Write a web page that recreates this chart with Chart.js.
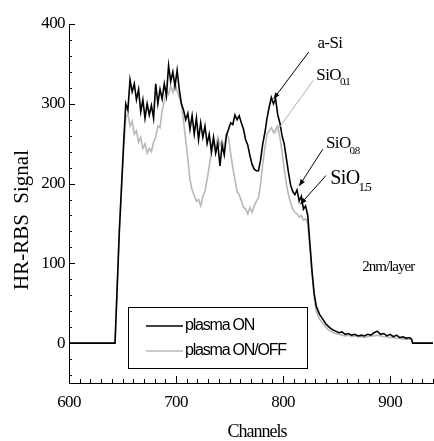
<!DOCTYPE html>
<html>
<head>
<meta charset="utf-8">
<script src="https://cdn.jsdelivr.net/npm/chart.js@4.4.0/dist/chart.umd.min.js"></script>
<style>
  html, body { margin: 0; padding: 0; background: #fff; }
  #wrap { width: 434px; height: 441px; position: relative; }
</style>
</head>
<body>
<div id="wrap"><canvas id="rbs-chart"></canvas></div>
<script>
// channel numbers (x) shared by both spectra
const channels = [
  600, 643, 645, 647, 649, 651, 653, 655, 657, 659,
  661, 663, 665, 667, 669, 671, 673, 675, 677, 679,
  681, 683, 685, 687, 689, 691, 693, 695, 697, 699,
  701, 703, 705, 707, 709, 711, 713, 715, 717, 719,
  721, 723, 725, 727, 729, 731, 733, 735, 737, 739,
  741, 743, 745, 747, 749, 751, 753, 755, 757, 759,
  761, 763, 765, 767, 769, 771, 773, 775, 777, 779,
  781, 783, 785, 787, 789, 791, 793, 795, 797, 799,
  801, 803, 805, 807, 809, 811, 813, 815, 817, 819,
  821, 823, 825, 827, 829, 831, 834, 837, 840, 843,
  846, 849, 852, 855, 858, 861, 864, 867, 870, 873,
  876, 879, 882, 885, 888, 891, 894, 897, 900, 903,
  906, 909, 912, 915, 918, 920, 921, 940
];

const plasmaOn = [
  0, 0, 70, 140, 195, 250, 300, 292, 330, 315,
  325, 305, 318, 290, 305, 282, 300, 286, 298, 282,
  325, 300, 318, 306, 325, 310, 348, 328, 340, 322,
  342, 318, 300, 292, 280, 288, 268, 285, 262, 282,
  255, 276, 258, 272, 250, 262, 240, 258, 238, 250,
  222, 248, 236, 260, 268, 276, 274, 286, 280, 285,
  276, 268, 255, 248, 235, 224, 218, 216, 216, 230,
  250, 264, 282, 296, 308, 300, 306, 286, 276, 260,
  250, 232, 214, 198, 190, 186, 192, 178, 184, 168,
  172, 160, 125, 90, 62, 46, 36, 30, 24, 20,
  17, 15, 13, 14, 11, 12, 10, 11, 9, 10,
  9, 11, 10, 13, 15, 11, 12, 9, 11, 8,
  10, 7, 8, 6, 7, 5, 0, 0
];

const plasmaOnOff = [
  0, 0, 70, 140, 190, 240, 282, 288, 272, 278,
  262, 266, 252, 258, 244, 250, 238, 244, 240, 252,
  258, 272, 270, 292, 302, 318, 312, 322, 314, 326,
  316, 308, 300, 278, 255, 231, 205, 192, 185, 178,
  180, 172, 184, 190, 205, 222, 238, 250, 245, 258,
  248, 254, 244, 262, 258, 238, 220, 205, 190, 186,
  178, 170, 168, 162, 170, 164, 172, 178, 182, 200,
  225, 245, 262, 266, 270, 264, 268, 272, 258, 240,
  218, 200, 186, 176, 168, 164, 162, 158, 160, 154,
  156, 150, 120, 86, 58, 40, 30, 25, 20, 16,
  14, 12, 11, 10, 9, 10, 8, 9, 8, 8,
  7, 8, 9, 9, 10, 9, 8, 8, 7, 7,
  6, 6, 5, 5, 5, 4, 0, 0
];

const seriesNames = ['plasma ON', 'plasma ON/OFF'];
const seriesColors = ['#000000', '#b8b8b8'];

const xTicks = [600, 700, 800, 900];
const yTicks = [0, 100, 200, 300, 400];

// layer labels: [base, subscript, label channel, label signal, arrow tail ch, tail sig, head ch, head sig, colour, font size]
const layerLabels = [
  ['a-Si', '', 832, 376, 824, 365, 791, 306, '#000', 17],
  ['SiO', '0.1', 831, 336, 828, 329, 792, 262, '#b0b0b0', 17],
  ['SiO', '0.8', 840, 250, 837, 243, 815, 197, '#000', 17],
  ['SiO', '1.5', 844, 206, 840, 210, 816, 174, '#000', 20]
];
const noteText = '2nm/layer';
const notePos = [874, 95];

const serif = "'Liberation Serif', 'Times New Roman', serif";
const sans = "'Liberation Sans Narrow', 'Liberation Sans', Arial, sans-serif";

function toPoints(ys) {
  return channels.map((c, i) => ({ x: c, y: ys[i] }));
}

function arrow(ctx, x1, y1, x2, y2, color, head) {
  ctx.strokeStyle = color;
  ctx.fillStyle = color;
  ctx.lineWidth = 1;
  ctx.beginPath();
  ctx.moveTo(x1, y1);
  ctx.lineTo(x2, y2);
  ctx.stroke();
  if (!head) return;
  const a = Math.atan2(y2 - y1, x2 - x1);
  const len = 7, w = 0.38;
  ctx.beginPath();
  ctx.moveTo(x2, y2);
  ctx.lineTo(x2 - len * Math.cos(a - w), y2 - len * Math.sin(a - w));
  ctx.lineTo(x2 - len * Math.cos(a + w), y2 - len * Math.sin(a + w));
  ctx.closePath();
  ctx.fill();
}

const decorations = {
  id: 'decorations',
  beforeDraw(chart) {
    chart.ctx.letterSpacing = '-0.6px';
  },
  afterDraw(chart) {
    const ctx = chart.ctx;
    const xs = chart.scales.x, ys = chart.scales.y;
    const area = chart.chartArea;
    ctx.save();

    // inward tick marks
    ctx.strokeStyle = '#000';
    ctx.lineWidth = 1;
    ctx.beginPath();
    for (let v = xs.min; v <= xs.max; v += 10) {
      const px = Math.round(xs.getPixelForValue(v)) + 0.5;
      const len = v % 100 === 0 ? 7 : 4;
      ctx.moveTo(px, area.bottom);
      ctx.lineTo(px, area.bottom - len);
    }
    for (let v = -40; v <= ys.max; v += 20) {
      const py = Math.round(ys.getPixelForValue(v)) + 0.5;
      const len = v % 100 === 0 ? 6 : 3;
      ctx.moveTo(area.left, py);
      ctx.lineTo(area.left + len, py);
    }
    ctx.stroke();

    // axis titles
    ctx.fillStyle = '#000';
    ctx.letterSpacing = '-1px';
    ctx.font = '18px ' + serif;
    ctx.textAlign = 'center';
    ctx.textBaseline = 'middle';
    ctx.fillText('Channels', 257, 432);
    ctx.save();
    ctx.translate(22, 220);
    ctx.rotate(-Math.PI / 2);
    ctx.letterSpacing = '0px';
    ctx.font = '21px ' + serif;
    ctx.fillText('HR-RBS  Signal', 0, 0);
    ctx.restore();

    // arrows and layer labels
    ctx.textAlign = 'left';
    ctx.letterSpacing = '-0.6px';
    layerLabels.forEach(([base, sub, lc, lv, tc, tv, hc, hv, col, size]) => {
      arrow(ctx, xs.getPixelForValue(tc), ys.getPixelForValue(tv),
        xs.getPixelForValue(hc), ys.getPixelForValue(hv), col, col === '#000');
      const lx = xs.getPixelForValue(lc), ly = ys.getPixelForValue(lv);
      ctx.fillStyle = '#000';
      ctx.font = size + 'px ' + serif;
      ctx.textBaseline = 'middle';
      ctx.fillText(base, lx, ly);
      if (sub) {
        const w = ctx.measureText(base).width;
        ctx.font = Math.round(size * 0.64) + 'px ' + serif;
        ctx.letterSpacing = '-1.5px';
        ctx.fillText(sub, lx + w - 1, ly + size * 0.42);
        ctx.letterSpacing = '-0.6px';
      }
    });

    ctx.font = '15px ' + serif;
    ctx.letterSpacing = '-1px';
    ctx.fillText(noteText, xs.getPixelForValue(notePos[0]), ys.getPixelForValue(notePos[1]));

    // legend box
    const bx = 128.5, by = 307.5, bw = 179, bh = 61;
    ctx.strokeStyle = '#000';
    ctx.lineWidth = 1;
    ctx.fillStyle = '#fff';
    ctx.fillRect(bx, by, bw, bh);
    ctx.strokeRect(bx, by, bw, bh);
    ctx.font = '16px ' + sans;
    ctx.letterSpacing = '-1.2px';
    seriesNames.forEach((name, i) => {
      const ly = 326 + i * 25;
      ctx.strokeStyle = seriesColors[i];
      ctx.lineWidth = 1.6;
      ctx.beginPath();
      ctx.moveTo(146, ly);
      ctx.lineTo(183, ly);
      ctx.stroke();
      ctx.fillStyle = '#000';
      ctx.fillText(name, 185, ly);
    });
    ctx.restore();
  }
};

new Chart(document.getElementById('rbs-chart'), {
  type: 'line',
  data: {
    datasets: [
      {
        label: seriesNames[0],
        data: toPoints(plasmaOn),
        borderColor: seriesColors[0],
        borderWidth: 1.6,
        pointRadius: 0,
        tension: 0
      },
      {
        label: seriesNames[1],
        data: toPoints(plasmaOnOff),
        borderColor: seriesColors[1],
        borderWidth: 1.6,
        pointRadius: 0,
        tension: 0
      }
    ]
  },
  options: {
    responsive: true,
    maintainAspectRatio: false,
    animation: false,
    layout: { padding: { top: 24, right: 1, left: 0, bottom: 0 } },
    plugins: {
      legend: { display: false },
      tooltip: { enabled: false }
    },
    scales: {
      x: {
        type: 'linear',
        min: 600,
        max: 940,
        afterFit: s => { s.height = 58; },
        afterBuildTicks: s => { s.ticks = xTicks.map(v => ({ value: v })); },
        ticks: { color: '#000', padding: 9, font: { family: serif, size: 17 }, maxRotation: 0 },
        grid: { display: false, drawTicks: false },
        border: { display: true, color: '#000', width: 1 }
      },
      y: {
        min: -50,
        max: 400,
        afterFit: s => { s.width = 69; },
        afterBuildTicks: s => { s.ticks = yTicks.map(v => ({ value: v })); },
        ticks: { color: '#000', padding: 4, font: { family: serif, size: 17 } },
        grid: { display: false, drawTicks: false },
        border: { display: true, color: '#000', width: 1 }
      }
    }
  },
  plugins: [decorations]
});
</script>
</body>
</html>
